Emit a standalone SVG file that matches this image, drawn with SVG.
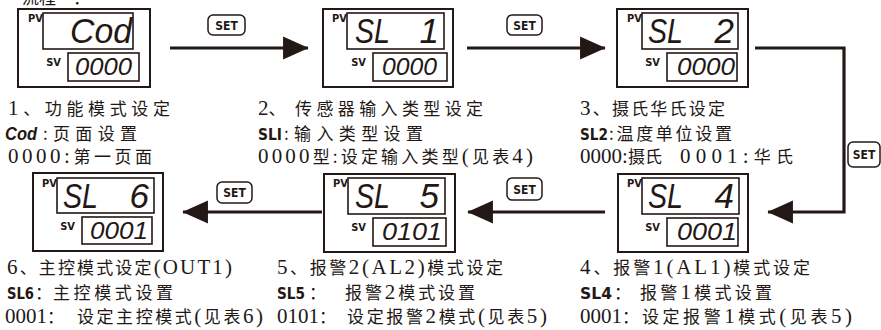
<svg xmlns="http://www.w3.org/2000/svg" width="881" height="330" viewBox="0 0 881 330">
<defs>
<style>
.ob{fill:none;stroke:#231815;stroke-width:2}
.ib{fill:none;stroke:#231815;stroke-width:1.6}
.lbl{font-family:"DejaVu Sans Condensed","DejaVu Sans",sans-serif;font-weight:bold;font-size:11px;fill:#231815;text-anchor:end}
.seg{font-family:"Liberation Sans",Arial,sans-serif;font-style:italic;font-size:35px;fill:#231815}
.segs{font-family:"Liberation Sans",Arial,sans-serif;font-style:italic;font-size:24px;fill:#231815}
.cn{font-family:"Noto Sans CJK SC",sans-serif;font-size:17px;fill:#231815}
.n{font-family:"Liberation Serif","Noto Sans CJK SC",serif;font-size:21px}
.b{font-family:"DejaVu Sans Condensed","DejaVu Sans",sans-serif;font-weight:bold;font-size:16px;fill:#231815}
.segc{font-family:"Liberation Sans",Arial,sans-serif;font-style:italic;font-weight:bold;font-size:19px;fill:#231815}
.ln{fill:none;stroke:#231815;stroke-width:3.2}
.btn{fill:#fff;stroke:#231815;stroke-width:1.5}
.bt{font-family:"DejaVu Sans Condensed","DejaVu Sans",sans-serif;font-weight:bold;font-size:12px;fill:#231815;text-anchor:middle}
</style>
<marker id="ah" markerWidth="8" markerHeight="8" refX="7.8" refY="3.6" orient="auto" markerUnits="strokeWidth" viewBox="0 0 8 7.2">
<path d="M0,0 L8,3.6 L0,7.2 Z" fill="#231815"/>
</marker>
</defs>

<text class="cn" x="22" y="4" font-size="20">流程一：</text>

<g id="node1">
<rect class="ob" x="18" y="9" width="132" height="78"/>
<rect class="ib" x="43" y="13" width="90" height="36"/>
<rect class="ib" x="68" y="53" width="71" height="28"/>
<text class="lbl" x="43" y="22">PV</text>
<text class="lbl" x="61" y="66">SV</text>
<text class="seg" x="70" y="43" textLength="62" lengthAdjust="spacingAndGlyphs">Cod</text>
<text class="segs" x="75" y="75" textLength="57" lengthAdjust="spacingAndGlyphs">0000</text>
<text class="cn" x="8" y="115" textLength="162"><tspan class="n">1</tspan>、功能模式设定</text>
<text class="segc" x="5" y="140" textLength="32" lengthAdjust="spacingAndGlyphs">Cod</text>
<text class="cn" x="43" y="140" textLength="94">:页面设置</text>
<text class="cn" x="8" y="163" textLength="144"><tspan class="n">0000:</tspan>第一页面</text>
</g>

<g id="node2">
<rect class="ob" x="323" y="9" width="130" height="78"/>
<rect class="ib" x="347" y="13" width="97" height="36"/>
<rect class="ib" x="373" y="53" width="74" height="28"/>
<text class="lbl" x="347" y="22">PV</text>
<text class="lbl" x="366" y="66">SV</text>
<text class="seg" x="355" y="43" textLength="35" lengthAdjust="spacingAndGlyphs">SL</text>
<text class="seg" x="439" y="43" text-anchor="end">1</text>
<text class="segs" x="382" y="75" textLength="55" lengthAdjust="spacingAndGlyphs">0000</text>
<text class="cn" x="258" y="115"><tspan class="n">2</tspan>、</text>
<text class="cn" x="295" y="115" textLength="188">传感器输入类型设定</text>
<text class="b" x="258" y="140" textLength="24" lengthAdjust="spacingAndGlyphs">SLI</text>
<text class="cn" x="284" y="140" textLength="139">:输入类型设置</text>
<text class="cn" x="258" y="163" textLength="275"><tspan class="n">0000</tspan>型:设定输入类型<tspan class="n">(</tspan>见表<tspan class="n">4)</tspan></text>
</g>

<g id="node3">
<rect class="ob" x="617" y="9" width="131" height="78"/>
<rect class="ib" x="642" y="13" width="96" height="36"/>
<rect class="ib" x="667" y="53" width="70" height="28"/>
<text class="lbl" x="642" y="22">PV</text>
<text class="lbl" x="660" y="66">SV</text>
<text class="seg" x="648" y="43" textLength="35" lengthAdjust="spacingAndGlyphs">SL</text>
<text class="seg" x="734" y="43" text-anchor="end">2</text>
<text class="segs" x="677" y="75" textLength="58" lengthAdjust="spacingAndGlyphs">0000</text>
<text class="cn" x="580" y="115" textLength="145"><tspan class="n">3</tspan>、摄氏华氏设定</text>
<text class="b" x="580" y="140" textLength="28" lengthAdjust="spacingAndGlyphs">SL2</text>
<text class="cn" x="609" y="140" textLength="123">:温度单位设置</text>
<text class="cn" x="580" y="163" textLength="82"><tspan class="n">0000:</tspan>摄氏</text>
<text class="cn" x="680" y="163" textLength="113"><tspan class="n">0001:</tspan>华氏</text>
</g>

<g id="node4">
<rect class="ob" x="618" y="174" width="130" height="78"/>
<rect class="ib" x="642" y="178" width="97" height="36"/>
<rect class="ib" x="667" y="218" width="71" height="28"/>
<text class="lbl" x="642" y="187">PV</text>
<text class="lbl" x="660" y="231">SV</text>
<text class="seg" x="648" y="208" textLength="35" lengthAdjust="spacingAndGlyphs">SL</text>
<text class="seg" x="734" y="208" text-anchor="end">4</text>
<text class="segs" x="677" y="240" textLength="60" lengthAdjust="spacingAndGlyphs">0001</text>
<text class="cn" x="580" y="274" textLength="230"><tspan class="n">4</tspan>、报警<tspan class="n">1(AL1)</tspan>模式设定</text>
<text class="b" x="580" y="299" textLength="32" lengthAdjust="spacingAndGlyphs">SL4</text>
<text class="cn" x="614" y="299">：</text>
<text class="cn" x="640" y="299" textLength="132">报警<tspan class="n">1</tspan>模式设置</text>
<text class="cn" x="580" y="323"><tspan class="n">0001</tspan>：</text>
<text class="cn" x="642" y="323" textLength="210">设定报警<tspan class="n">1</tspan>模式<tspan class="n">(</tspan>见表<tspan class="n">5)</tspan></text>
</g>

<g id="node5">
<rect class="ob" x="324" y="174" width="131" height="78"/>
<rect class="ib" x="348" y="178" width="97" height="36"/>
<rect class="ib" x="373" y="218" width="73" height="28"/>
<text class="lbl" x="348" y="187">PV</text>
<text class="lbl" x="366" y="231">SV</text>
<text class="seg" x="355" y="208" textLength="35" lengthAdjust="spacingAndGlyphs">SL</text>
<text class="seg" x="439" y="208" text-anchor="end">5</text>
<text class="segs" x="382" y="240" textLength="60" lengthAdjust="spacingAndGlyphs">0101</text>
<text class="cn" x="277" y="274" textLength="226"><tspan class="n">5</tspan>、报警<tspan class="n">2(AL2)</tspan>模式设定</text>
<text class="b" x="277" y="299" textLength="28" lengthAdjust="spacingAndGlyphs">SL5</text>
<text class="cn" x="309" y="299">：</text>
<text class="cn" x="345" y="299" textLength="130">报警<tspan class="n">2</tspan>模式设置</text>
<text class="cn" x="277" y="323"><tspan class="n">0101</tspan>：</text>
<text class="cn" x="347" y="323" textLength="200">设定报警<tspan class="n">2</tspan>模式<tspan class="n">(</tspan>见表<tspan class="n">5)</tspan></text>
</g>

<g id="node6">
<rect class="ob" x="33" y="173" width="130" height="78"/>
<rect class="ib" x="57" y="178" width="97" height="35"/>
<rect class="ib" x="82" y="217" width="70" height="27"/>
<text class="lbl" x="57" y="187">PV</text>
<text class="lbl" x="75" y="230">SV</text>
<text class="seg" x="63" y="208" textLength="35" lengthAdjust="spacingAndGlyphs">SL</text>
<text class="seg" x="149" y="208" text-anchor="end">6</text>
<text class="segs" x="90" y="239" textLength="58" lengthAdjust="spacingAndGlyphs">0001</text>
<text class="cn" x="7" y="274" textLength="225"><tspan class="n">6</tspan>、主控模式设定<tspan class="n">(OUT1)</tspan></text>
<text class="b" x="7" y="299" textLength="27" lengthAdjust="spacingAndGlyphs">SL6</text>
<text class="cn" x="35" y="299">：</text>
<text class="cn" x="53" y="299" textLength="120">主控模式设置</text>
<text class="cn" x="5" y="323"><tspan class="n">0001</tspan>：</text>
<text class="cn" x="77" y="323" textLength="186">设定主控模式<tspan class="n">(</tspan>见表<tspan class="n">6)</tspan></text>
</g>

<g id="connectors">
<line class="ln" x1="170" y1="48" x2="308" y2="48" marker-end="url(#ah)"/>
<line class="ln" x1="467" y1="48" x2="605" y2="48" marker-end="url(#ah)"/>
<polyline class="ln" points="755,48 844,48 844,212 768,212" marker-end="url(#ah)"/>
<line class="ln" x1="605" y1="212" x2="468" y2="212" marker-end="url(#ah)"/>
<line class="ln" x1="322" y1="212" x2="183" y2="212" marker-end="url(#ah)"/>
<rect class="btn" x="208" y="15" width="37" height="20" rx="5"/>
<text class="bt" x="226.5" y="30">SET</text>
<rect class="btn" x="507" y="15" width="35" height="20" rx="5"/>
<text class="bt" x="524.5" y="30">SET</text>
<rect class="btn" x="848" y="142" width="32" height="25" rx="5"/>
<text class="bt" x="864" y="159">SET</text>
<rect class="btn" x="507" y="178" width="35" height="22" rx="5"/>
<text class="bt" x="524.5" y="194">SET</text>
<rect class="btn" x="217" y="182" width="35" height="21" rx="5"/>
<text class="bt" x="234.5" y="197">SET</text>
</g>
</svg>
